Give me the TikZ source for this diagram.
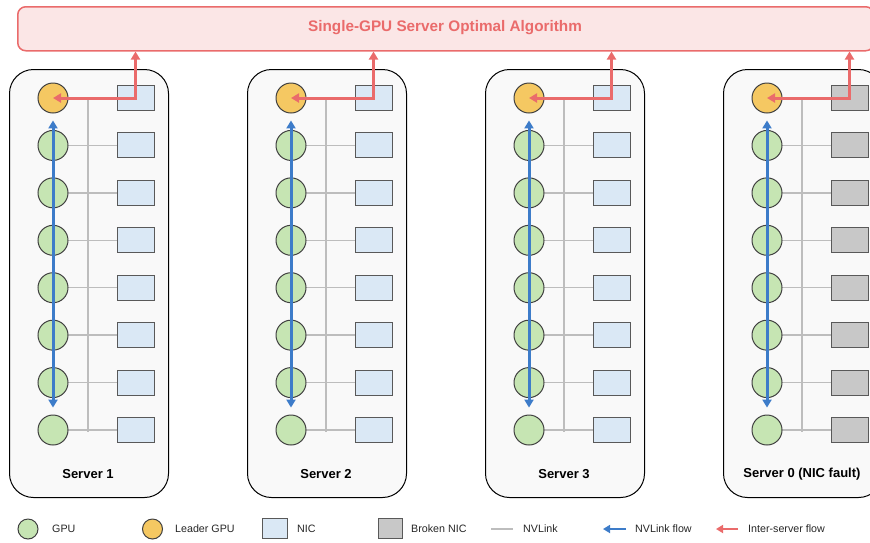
\documentclass[tikz,border=0pt]{standalone}
\usepackage{fontspec}
\setmainfont{Liberation Sans}
\usetikzlibrary{arrows.meta}
\definecolor{gpufill}{HTML}{C6E5B3}
\definecolor{leadfill}{HTML}{F5C862}
\definecolor{nicfill}{HTML}{DAE8F5}
\definecolor{brokfill}{HTML}{C8C8C8}
\definecolor{srvfill}{HTML}{F9F9F9}
\definecolor{nvgray}{HTML}{BDBDBD}
\definecolor{blueflow}{HTML}{3D7CC9}
\definecolor{redflow}{HTML}{EA6B6B}
\definecolor{algofill}{HTML}{FBE6E6}
\begin{document}
\begin{tikzpicture}[x=1pt,y=-1pt,
  gpu/.style={circle, draw=black!75, fill=gpufill, minimum size=30pt, inner sep=0pt, line width=1pt},
  leader/.style={gpu, fill=leadfill},
  nic/.style={rectangle, draw=black!65, fill=nicfill, minimum width=37pt, minimum height=25pt, inner sep=0pt, line width=1pt},
  broken/.style={nic, fill=brokfill},
  server/.style={draw=black, fill=srvfill, rounded corners=24pt, line width=1pt, minimum width=159pt, minimum height=428pt, inner sep=0pt, anchor=north west},
  algo/.style={draw=redflow, fill=algofill, rounded corners=8pt, line width=1.5pt, minimum width=856pt, minimum height=44pt, inner sep=0pt, anchor=north west},
  nvl/.style={draw=nvgray, line width=1.4pt},
  nvflow/.style={draw=blueflow, line width=3pt, arrows={Triangle[width=9pt,length=8pt]-Triangle[width=9pt,length=8pt]}},
  interflow/.style={draw=redflow, line width=3pt, arrows={Triangle[width=9pt,length=8pt]-Triangle[width=9pt,length=8pt]}},
  lgflow/.style={line width=2.5pt, arrows={-Triangle[width=8pt,length=7pt]}},
  srvlabel/.style={font=\bfseries\fontsize{13}{15}\selectfont},
  lgtext/.style={anchor=west, font=\fontsize{10.7}{13}\selectfont, text=black!85, inner sep=0pt},
]
\useasboundingbox (0,0) rectangle (870,542);
\clip (0,0) rectangle (870,542);

% top algorithm box
\node[algo] (algo) at (17,6) {};
\node[font=\bfseries\fontsize{15.3}{17}\selectfont, text=redflow] (algotext) at (445,28) {Single-GPU Server Optimal Algorithm};

\foreach \s/\lab/\nst [count=\i from 0, evaluate=\i as \off using \i*238] in
  {1/Server 1/nic, 2/Server 2/nic, 3/Server 3/nic, 0/Server 0 (NIC fault)/broken} {
  \node[server] (srv\s) at (9+\off,69) {};
  \node[srvlabel] (lab\s) at (88+\off,474) {\lab};
  % bus
  \coordinate (bt\s) at (88+\off,98);
  \coordinate (bb\s) at (88+\off,432);
  \draw[nvl] (bt\s) -- (bb\s);
  % rows
  \foreach \r in {1,...,8} {
    \pgfmathsetmacro\yy{98+(\r-1)*47.43}
    \coordinate (gc\s-\r) at (53+\off,\yy);
    \node[\nst] (n\s-\r) at (135.5+\off,\yy) {};
    \draw[nvl] (gc\s-\r) -- (n\s-\r);
  }
  \node[leader] (g\s-1) at (gc\s-1) {};
  \foreach \r in {2,...,8} {
    \node[gpu] (g\s-\r) at (gc\s-\r) {};
  }
  % flows
  \draw[nvflow] ([yshift=25pt]g\s-2.center) -- ([yshift=-25pt]g\s-7.center);
  \draw[interflow] (g\s-1.center) -- (n\s-1.center) -- (n\s-1.center |- algo.south);
}

% legend
\node[gpu, minimum size=20pt] (lgpu) at (28,529) {};
\node[lgtext] (lgputext) at (52,529) {GPU};
\node[leader, minimum size=20pt] (llead) at (152.5,529) {};
\node[lgtext] (lleadtext) at (175,529) {Leader GPU};
\node[nic, minimum width=25pt, minimum height=20pt] (lnic) at (274.5,528) {};
\node[lgtext] (lnictext) at (297,529) {NIC};
\node[broken, minimum width=24pt, minimum height=20pt] (lbrok) at (390,528) {};
\node[lgtext] (lbroktext) at (411,529) {Broken NIC};
\coordinate (lnva) at (491,529);
\coordinate (lnvb) at (513,529);
\draw[nvl] (lnva) -- (lnvb);
\node[lgtext] (lnvtext) at (523,529) {NVLink};
\coordinate (lbfa) at (626,529);
\coordinate (lbfb) at (603,529);
\draw[lgflow, draw=blueflow] (lbfa) -- (lbfb);
\node[lgtext] (lbftext) at (635,529) {NVLink flow};
\coordinate (lrfa) at (738,529);
\coordinate (lrfb) at (716,529);
\draw[lgflow, draw=redflow] (lrfa) -- (lrfb);
\node[lgtext] (lrftext) at (748,529) {Inter-server flow};
\end{tikzpicture}
\end{document}
